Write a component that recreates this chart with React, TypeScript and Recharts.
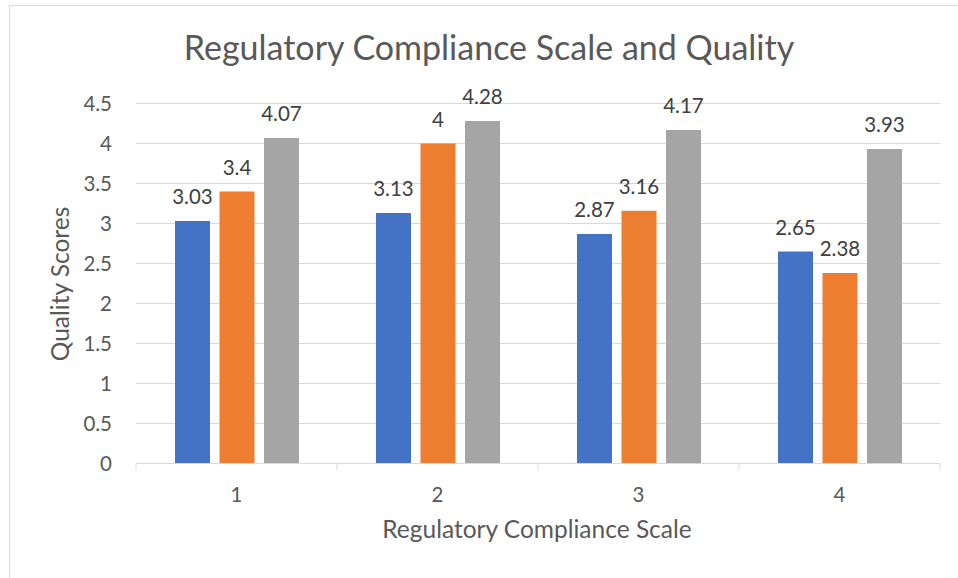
import React from 'react';
import { BarChart, Bar, XAxis, YAxis, CartesianGrid, LabelList } from 'recharts';

const categories = ['1', '2', '3', '4'];
const series1 = [3.03, 3.13, 2.87, 2.65];
const series2 = [3.4, 4, 3.16, 2.38];
const series3 = [4.07, 4.28, 4.17, 3.93];
const yTicks = [0, 0.5, 1, 1.5, 2, 2.5, 3, 3.5, 4, 4.5];

const titleText = 'Regulatory Compliance Scale and Quality';
const xTitle = 'Regulatory Compliance Scale';
const yTitle = 'Quality Scores';

const data = categories.map((c, i) => ({ cat: c, s1: series1[i], s2: series2[i], s3: series3[i] }));

const W = 958;
const H = 578;
const PLOT_LEFT = 136;
const PLOT_RIGHT = 940;
const PLOT_TOP = 103.5;
const PLOT_BOTTOM = 463.5;
const Y_AXIS_W = 60;
const X_AXIS_H = 30;
const FONT = 'Lato, "Open Sans", sans-serif';
const TEXT = '#595959';
const GRID = '#d9d9d9';

const band = (PLOT_RIGHT - PLOT_LEFT) / categories.length;

const XTick = (props: any) => {
  const { x, y, payload, index } = props;
  return (
    <g>
      <line x1={x - band / 2} x2={x - band / 2} y1={y} y2={y + 7} stroke={GRID} strokeWidth={1} />
      {index === categories.length - 1 && (
        <line x1={x + band / 2} x2={x + band / 2} y1={y} y2={y + 7} stroke={GRID} strokeWidth={1} />
      )}
      <text x={x} y={y + 38.5} textAnchor="middle" fill={TEXT} fontSize={20.5} fontFamily={FONT}>
        {payload.value}
      </text>
    </g>
  );
};

export default function App() {
  return (
    <div style={{ position: 'absolute', left: 0, top: 0, width: W, height: H, background: '#fff' }}>
      <BarChart
        width={W}
        height={H}
        data={data}
        margin={{ top: PLOT_TOP, right: W - PLOT_RIGHT, bottom: H - PLOT_BOTTOM - X_AXIS_H, left: PLOT_LEFT - Y_AXIS_W }}
        barSize={35}
        barGap={9.5}
      >
        <CartesianGrid vertical={false} stroke={GRID} strokeWidth={1} />
        <XAxis
          dataKey="cat"
          height={X_AXIS_H}
          axisLine={{ stroke: GRID, strokeWidth: 1 }}
          tickLine={false}
          tickSize={0}
          tickMargin={0}
          tick={<XTick />}
          interval={0}
        />
        <YAxis
          width={Y_AXIS_W}
          domain={[0, 4.5]}
          ticks={yTicks}
          axisLine={false}
          tickLine={false}
          tickSize={0}
          tickMargin={24}
          tick={{ fill: TEXT, fontSize: 20.5, fontFamily: FONT }}
          allowDecimals
        />
        <Bar dataKey="s1" fill="#4472C4" isAnimationActive={false}>
          <LabelList dataKey="s1" position="top" offset={17} fill="#404040" fontSize={20.5} fontFamily={FONT} />
        </Bar>
        <Bar dataKey="s2" fill="#ED7D31" isAnimationActive={false}>
          <LabelList dataKey="s2" position="top" offset={17} fill="#404040" fontSize={20.5} fontFamily={FONT} />
        </Bar>
        <Bar dataKey="s3" fill="#A5A5A5" isAnimationActive={false}>
          <LabelList dataKey="s3" position="top" offset={17} fill="#404040" fontSize={20.5} fontFamily={FONT} />
        </Bar>
      </BarChart>
      <svg
        width={W}
        height={H}
        style={{ position: 'absolute', left: 0, top: 0, pointerEvents: 'none' }}
      >
        <rect x={9.5} y={5.5} width={W} height={H} fill="none" stroke={GRID} strokeWidth={1} />
        <text x={489} y={60} textAnchor="middle" fill={TEXT} fontSize={34} fontFamily={FONT}>
          {titleText}
        </text>
        <text x={537} y={538} textAnchor="middle" fill={TEXT} fontSize={24.5} fontFamily={FONT}>
          {xTitle}
        </text>
        <text
          transform="translate(68.5,284) rotate(-90)"
          textAnchor="middle"
          fill={TEXT}
          fontSize={24.5}
          fontFamily={FONT}
        >
          {yTitle}
        </text>
      </svg>
    </div>
  );
}
